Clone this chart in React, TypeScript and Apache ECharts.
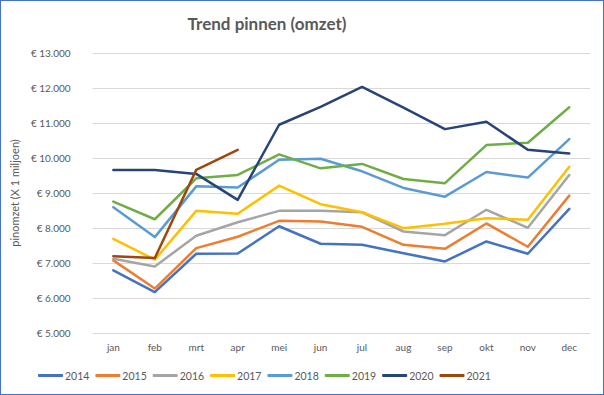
import React, { useEffect, useRef } from "react";
import * as echarts from "echarts";

const months = ["jan", "feb", "mrt", "apr", "mei", "jun", "jul", "aug", "sep", "okt", "nov", "dec"];
const years = ["2014", "2015", "2016", "2017", "2018", "2019", "2020", "2021"];
const colors = ["#4472C4", "#ED7D31", "#A5A5A5", "#FFC000", "#5B9BD5", "#70AD47", "#264478", "#9E480E"];

const v2014 = [6790, 6170, 7265, 7270, 8050, 7550, 7520, 7280, 7045, 7615, 7265, 8545];
const v2015 = [7075, 6270, 7425, 7750, 8205, 8185, 8035, 7520, 7405, 8130, 7465, 8925];
const v2016 = [7120, 6900, 7780, 8165, 8490, 8490, 8450, 7900, 7795, 8520, 8005, 9515];
const v2017 = [7690, 7095, 8490, 8405, 9210, 8680, 8450, 7995, 8120, 8280, 8235, 9750];
const v2018 = [8595, 7740, 9190, 9155, 9950, 9980, 9620, 9145, 8895, 9600, 9440, 10540];
const v2019 = [8755, 8250, 9420, 9515, 10105, 9705, 9830, 9400, 9280, 10370, 10435, 11450];
const v2020 = [9660, 9660, 9545, 8805, 10950, 11460, 12030, 11440, 10825, 11035, 10235, 10130];
const v2021 = [7195, 7140, 9660, 10235];

const seriesValues = [v2014, v2015, v2016, v2017, v2018, v2019, v2020, v2021];

const FONT = "Lato, 'Liberation Sans', sans-serif";

export default function App() {
  const ref = useRef<HTMLDivElement>(null);
  useEffect(() => {
    if (!ref.current) return;
    const chart = echarts.init(ref.current, undefined, { renderer: "svg" });
    chart.setOption({
      animation: false,
      backgroundColor: "#ffffff",
      title: {
        text: "Trend pinnen (omzet)",
        left: 261,
        top: 9,
        textAlign: "center",
        textStyle: { fontFamily: FONT, fontSize: 17, fontWeight: "bold", color: "#595959" },
      },
      legend: {
        left: 37,
        top: 369,
        padding: 0,
        itemWidth: 25,
        itemHeight: 3,
        itemGap: 6,
        icon: "roundRect",
        textStyle: { fontFamily: FONT, fontSize: 10.5, color: "#595959", padding: [0, 0, 0, -3] },
        data: years,
      },
      grid: { left: 90, right: 13, top: 52, bottom: 61, containLabel: false },
      xAxis: {
        type: "category",
        data: months,
        boundaryGap: true,
        axisLine: { show: false },
        axisTick: { show: false },
        axisLabel: { color: "#595959", fontFamily: FONT, fontSize: 10, margin: 9 },
      },
      yAxis: {
        type: "value",
        min: 5000,
        max: 13000,
        interval: 1000,
        name: "pinomzet (X 1 miljoen)",
        nameLocation: "middle",
        nameGap: 58,
        nameRotate: 90,
        nameTextStyle: { color: "#595959", fontFamily: FONT, fontSize: 11 },
        axisLine: { show: false },
        axisTick: { show: false },
        splitLine: { lineStyle: { color: "#D9D9D9", width: 1 } },
        axisLabel: {
          color: "#595959",
          fontFamily: FONT,
          fontSize: 10,
          margin: 22,
          formatter: (v: number) => "€ " + (v / 1000).toFixed(3),
        },
      },
      series: years.map((y, i) => ({
        name: y,
        type: "line",
        data: seriesValues[i],
        showSymbol: false,
        symbol: "none",
        lineStyle: { color: colors[i], width: 2.5, cap: "round", join: "round" },
        itemStyle: { color: colors[i] },
      })),
    });
    return () => chart.dispose();
  }, []);
  return (
    <div
      style={{
        position: "fixed",
        left: 0,
        top: 0,
        width: 604,
        height: 395,
        boxSizing: "border-box",
        border: "1px solid #4472C4",
        background: "#fff",
      }}
    >
      <div ref={ref} style={{ width: 602, height: 393 }} />
    </div>
  );
}
